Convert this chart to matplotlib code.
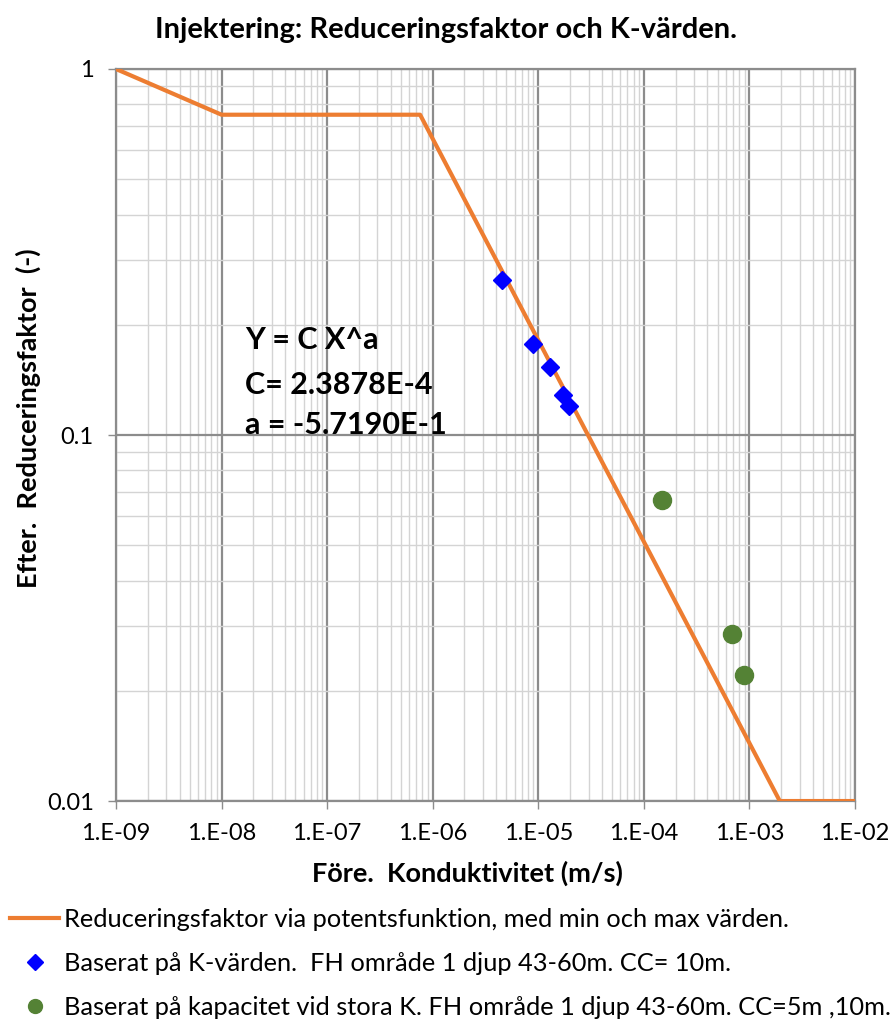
import matplotlib.pyplot as plt
import matplotlib.ticker as mticker
from matplotlib.lines import Line2D
import numpy as np

plt.rcParams['font.family'] = ['Lato', 'DejaVu Sans']

# Reduceringsfaktor-kurva (min/max + potentsfunktion)
line_x = [1e-9, 1e-8, 7.6e-7, 1.94e-3, 1e-2]
line_y = [1.0, 0.75, 0.75, 0.01, 0.01]

# Baserat på K-värden
k_x = [4.5e-6, 9.0e-6, 1.28e-5, 1.73e-5, 1.97e-5]
k_y = [0.265, 0.177, 0.153, 0.129, 0.120]

# Baserat på kapacitet
cap_x = [1.50e-4, 6.9e-4, 8.9e-4]
cap_y = [0.0664, 0.0286, 0.0221]

x_ticks = [1e-9, 1e-8, 1e-7, 1e-6, 1e-5, 1e-4, 1e-3, 1e-2]
x_labels = ['1.E-09', '1.E-08', '1.E-07', '1.E-06', '1.E-05', '1.E-04', '1.E-03', '1.E-02']
y_ticks = [0.01, 0.1, 1]
y_labels = ['0.01', '0.1', '1']

fig = plt.figure(figsize=(8.92, 10.19), dpi=100)
ax = fig.add_axes([0.130, 0.2139, 0.8285, 0.7184])

orange = '#ED7D31'
ax.plot(line_x, line_y, color=orange, lw=3, zorder=3)
ax.plot(k_x, k_y, 'D', color='#0000FF', markersize=9, zorder=4)
ax.plot(cap_x, cap_y, 'o', color='#548235', markersize=13, zorder=4)

ax.set_xscale('log')
ax.set_yscale('log')
ax.set_xlim(1e-9, 1e-2)
ax.set_ylim(0.01, 1)

ax.xaxis.set_major_locator(mticker.FixedLocator(x_ticks))
ax.xaxis.set_major_formatter(mticker.FixedFormatter(x_labels))
ax.yaxis.set_major_locator(mticker.FixedLocator(y_ticks))
ax.yaxis.set_major_formatter(mticker.FixedFormatter(y_labels))
ax.xaxis.set_minor_locator(mticker.LogLocator(base=10, subs=np.arange(2, 10)))
ax.yaxis.set_minor_locator(mticker.LogLocator(base=10, subs=np.arange(2, 10)))
ax.xaxis.set_minor_formatter(mticker.NullFormatter())
ax.yaxis.set_minor_formatter(mticker.NullFormatter())

ax.grid(True, which='major', color='#8C8C8C', lw=1.6, zorder=1)
ax.grid(True, which='minor', color='#D4D4D4', lw=1.0, zorder=0)
ax.set_axisbelow(True)
ax.tick_params(which='minor', length=0)
ax.tick_params(which='major', length=6, width=1, color='#8C8C8C',
               labelsize=17, pad=10)
for s in ax.spines.values():
    s.set_color('#8C8C8C')
    s.set_linewidth(1.6)

fig.suptitle('Injektering: Reduceringsfaktor och K-värden.', fontsize=21,
             fontweight='bold', x=0.5, y=0.971, va='center')
ax.set_xlabel('Före.  Konduktivitet (m/s)', fontsize=19.5, fontweight='bold')
ax.xaxis.set_label_coords(0.475, -0.081)
ax.set_ylabel('Efter.  Reduceringsfaktor  (-)', fontsize=19.5, fontweight='bold')
ax.yaxis.set_label_coords(-0.101, 0.523)

ax.text(1.67e-8, 0.182, 'Y = C X^a', fontsize=22, fontweight='bold', va='center')
ax.text(1.67e-8, 0.137, 'C= 2.3878E-4', fontsize=22, fontweight='bold', va='center')
ax.text(1.67e-8, 0.1065, 'a = -5.7190E-1', fontsize=22, fontweight='bold', va='center')

handles = [
    Line2D([], [], color=orange, lw=3),
    Line2D([], [], marker='D', color='#0000FF', ls='none', markersize=8),
    Line2D([], [], marker='o', color='#548235', ls='none', markersize=10),
]
labels = [
    'Reduceringsfaktor via potentsfunktion, med min och max värden.',
    'Baserat på K-värden.  FH område 1 djup 43-60m. CC= 10m.',
    'Baserat på kapacitet vid stora K. FH område 1 djup 43-60m. CC=5m ,10m.',
]
fig.legend(handles, labels, loc='upper left', bbox_to_anchor=(0.011, 0.109),
           frameon=False, fontsize=18.3, handlelength=1.95, handletextpad=0.2,
           labelspacing=0.82, borderaxespad=0, borderpad=0)

fig.savefig('out.png', dpi=100)
